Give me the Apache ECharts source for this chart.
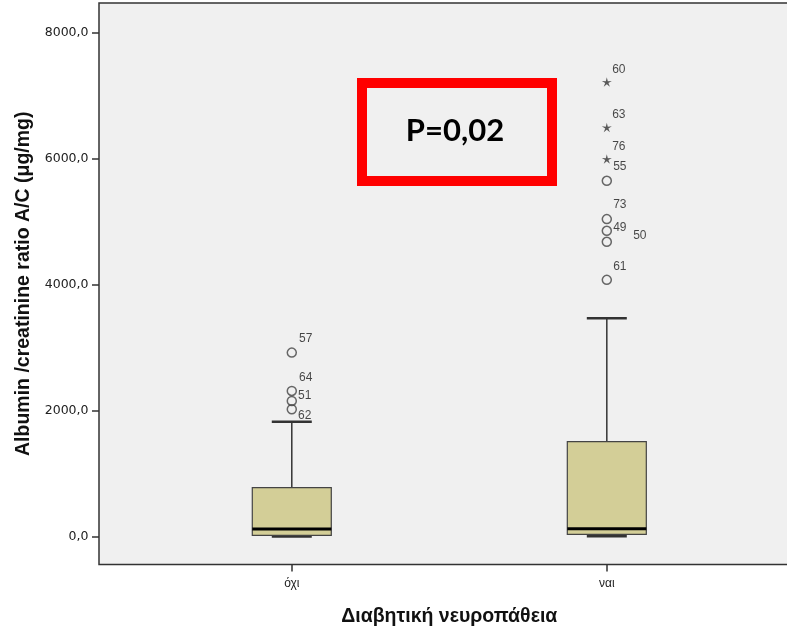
<!DOCTYPE html>
<html>
<head>
<meta charset="utf-8">
<script src="https://cdn.jsdelivr.net/npm/echarts@6/dist/echarts.min.js"></script>
<style>html,body{margin:0;padding:0;background:#fff}#c{width:787px;height:632px}</style>
</head>
<body>
<div id="c"></div>
<script>
// ---- data ----
const categories = ['όχι', 'ναι'];
const boxLow = [0, 3];
const boxQ1 = [19, 35];
const boxMedian = [119, 124];
const boxQ3 = [776, 1507];
const boxHigh = [1825, 3469];

const outlierGroup = [0, 0, 0, 0, 1, 1, 1, 1, 1];
const outlierIds = ['57', '64', '51', '62', '55', '73', '49', '50', '61'];
const outlierValues = [2922, 2313, 2154, 2022, 5652, 5043, 4857, 4682, 4078];

const extremeGroup = [1, 1, 1];
const extremeIds = ['60', '63', '76'];
const extremeValues = [7221, 6499, 5997];

const yTicks = [0, 2000, 4000, 6000, 8000];
const xTicks = [0, 1];

// ---- styling (label offsets, in px) ----
const labelOffsets = {
  '57': [14, -14], '64': [14, -13], '51': [13, -5], '62': [13, 6],
  '55': [13, -14], '73': [13, -14], '49': [13, -3], '50': [33, -6], '61': [13, -13],
  '60': [12, -12], '63': [12, -13], '76': [12, -12]
};

const boxData = categories.map((c, i) => [i, boxLow[i], boxQ1[i], boxMedian[i], boxQ3[i], boxHigh[i]]);
const outlierData = outlierIds.map((id, i) => ({
  value: [outlierGroup[i], outlierValues[i]],
  name: id,
  label: { offset: labelOffsets[id] }
}));
const extremeData = extremeIds.map((id, i) => ({
  value: [extremeGroup[i], extremeValues[i]],
  name: id,
  label: { offset: labelOffsets[id] }
}));

const starPath = 'path://M0,-5 L0.94,-1.294 L4.755,-1.545 L1.522,0.494 L2.939,4.045 L0,1.6 L-2.939,4.045 L-1.522,0.494 L-4.755,-1.545 L-0.94,-1.294 Z';

const chart = echarts.init(document.getElementById('c'), null, { renderer: 'canvas' });
const labelStyle = {
  show: true, position: 'inside', formatter: p => p.name,
  fontFamily: 'Liberation Sans, Arial', fontSize: 12, color: '#1a1a1a'
};

chart.setOption({
  animation: false,
  backgroundColor: '#ffffff',
  grid: {
    left: 99, top: 3, width: 700.6, height: 561.5,
    outerBoundsMode: 'none', containLabel: false,
    show: true, backgroundColor: '#f0f0f0', borderColor: '#333', borderWidth: 1.5
  },
  xAxis: {
    type: 'value', min: -0.612, max: 1.612,
    axisLine: { show: false, onZero: false },
    splitLine: { show: false },
    axisTick: { show: true, customValues: xTicks, length: 7, lineStyle: { color: '#333', width: 1.5 } },
    axisLabel: {
      customValues: xTicks, formatter: v => categories[Math.round(v)],
      margin: 13, fontFamily: 'Liberation Sans, Arial', fontSize: 12, color: '#222'
    },
    name: 'Διαβητική νευροπάθεια', nameLocation: 'middle', nameGap: 42,
    nameTextStyle: { fontFamily: 'Liberation Sans, Arial', fontWeight: 'bold', fontSize: 19.5, color: '#111' }
  },
  yAxis: {
    type: 'value', min: -445, max: 8477,
    axisLine: { show: false, onZero: false },
    splitLine: { show: false },
    axisTick: { show: true, customValues: yTicks, length: 7, lineStyle: { color: '#333', width: 1.5 } },
    axisLabel: {
      customValues: yTicks, formatter: v => v.toFixed(1).replace('.', ','),
      margin: 10.5, fontFamily: 'DejaVu Sans', fontSize: 12.5, color: '#222'
    },
    name: 'Albumin /creatinine ratio A/C (μg/mg)', nameLocation: 'middle', nameGap: 56,
    nameTextStyle: { fontFamily: 'Liberation Sans, Arial', fontWeight: 'bold', fontSize: 19.5, color: '#111' }
  },
  series: [
    {
      type: 'custom',
      data: boxData,
      encode: { x: 0, y: [1, 2, 3, 4, 5] },
      renderItem: function (params, api) {
        const x = api.value(0);
        const pLow = api.coord([x, api.value(1)]);
        const pQ1 = api.coord([x, api.value(2)]);
        const pMed = api.coord([x, api.value(3)]);
        const pQ3 = api.coord([x, api.value(4)]);
        const pHigh = api.coord([x, api.value(5)]);
        const cx = pLow[0];
        const hw = 39.5, cw = 20;
        const stroke = '#333';
        return {
          type: 'group',
          children: [
            { type: 'line', shape: { x1: cx, y1: pQ3[1], x2: cx, y2: pHigh[1] }, style: { stroke: stroke, lineWidth: 1.5 } },
            { type: 'line', shape: { x1: cx, y1: pQ1[1], x2: cx, y2: pLow[1] }, style: { stroke: stroke, lineWidth: 1.5 } },
            { type: 'line', shape: { x1: cx - cw, y1: pHigh[1], x2: cx + cw, y2: pHigh[1] }, style: { stroke: stroke, lineWidth: 2.5 } },
            { type: 'line', shape: { x1: cx - cw, y1: pLow[1], x2: cx + cw, y2: pLow[1] }, style: { stroke: stroke, lineWidth: 2.5 } },
            { type: 'rect', shape: { x: cx - hw, y: pQ3[1], width: 2 * hw, height: pQ1[1] - pQ3[1] },
              style: { fill: '#d3ce97', stroke: '#444', lineWidth: 1.2 } },
            { type: 'line', shape: { x1: cx - hw, y1: pMed[1], x2: cx + hw, y2: pMed[1] }, style: { stroke: '#000', lineWidth: 3 } }
          ]
        };
      },
      z: 2
    },
    {
      type: 'scatter',
      data: outlierData,
      symbol: 'circle', symbolSize: 9,
      itemStyle: { color: 'rgba(0,0,0,0)', borderColor: '#444', borderWidth: 1.5 },
      label: labelStyle,
      z: 3
    },
    {
      type: 'scatter',
      data: extremeData,
      symbol: starPath, symbolSize: [10, 9.5],
      itemStyle: { color: '#333' },
      label: labelStyle,
      z: 3
    }
  ],
  graphic: [
    {
      type: 'rect', left: 357, top: 78, z: 10,
      shape: { width: 190, height: 98 },
      style: { fill: 'none', stroke: '#ff0000', lineWidth: 10 }
    },
    {
      type: 'text', x: 455, y: 131, z: 11,
      style: { text: 'P=0,02', font: 'bold 31px Lato, "Open Sans", sans-serif', fill: '#000', align: 'center', verticalAlign: 'middle' }
    }
  ]
});
</script>
</body>
</html>
